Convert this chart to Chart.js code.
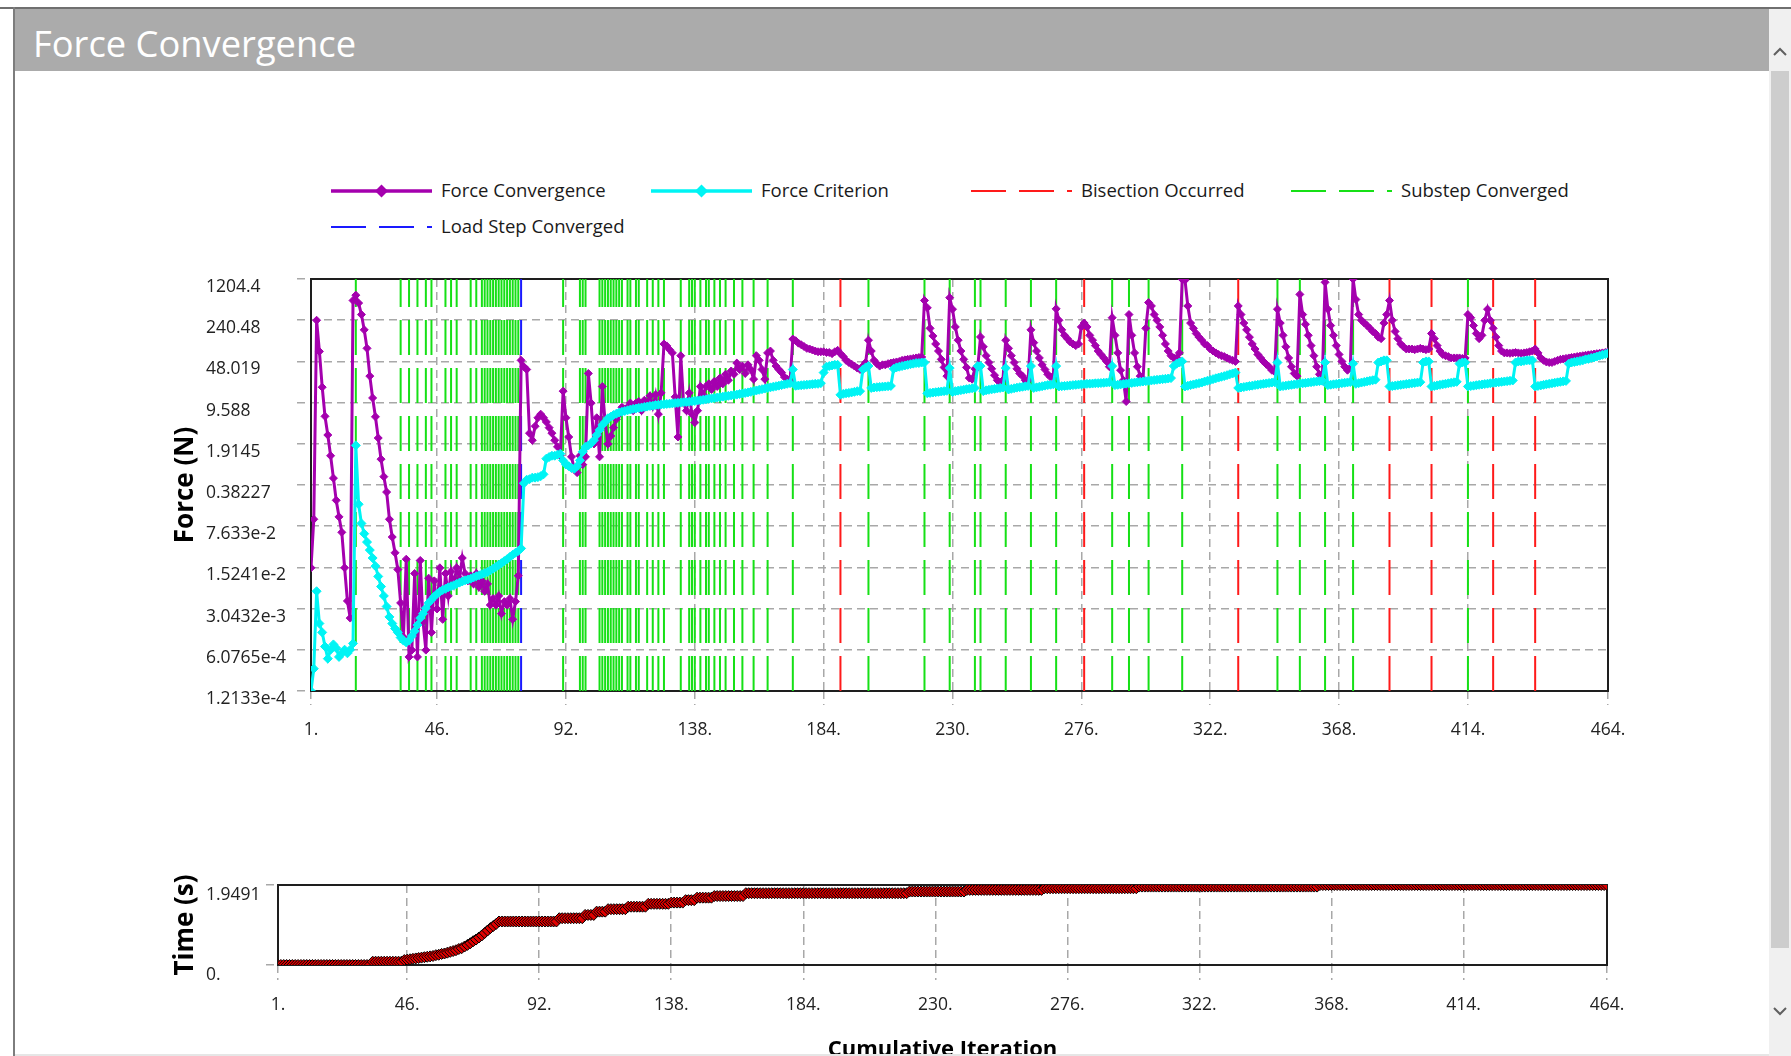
<!DOCTYPE html>
<html>
<head>
<meta charset="utf-8">
<title>Force Convergence</title>
<script src="https://cdn.jsdelivr.net/npm/chart.js@4.4.1/dist/chart.umd.min.js"></script>
<style>
  html, body { margin: 0; padding: 0; background: #fff; overflow: hidden; }
  body { position: relative; width: 1791px; height: 1056px; font-family: "Open Sans", sans-serif; }
  .abs { position: absolute; }
  #topLine { left: 0; top: 7px; width: 1791px; height: 2px; background: #6f6f6f; }
  #leftLine { left: 13px; top: 7px; width: 2px; height: 1049px; background: #7d7d7d; }
  #header { left: 15px; top: 9px; width: 1754px; height: 62px; background: #ababab; }
  #header span { position: absolute; left: 18px; top: 3px; line-height: 62px; font-size: 36.3px; color: #fff; }
  #scroll { left: 1769px; top: 9px; width: 22px; height: 1047px; background: #f0f0f0; }
  #thumb { left: 1771px; top: 71px; width: 18px; height: 877px; background: #cdcdcd; }
  #bottomLine { left: 15px; top: 1054px; width: 1754px; height: 2px; background: #e6e6e6; }
  .legSample { position: absolute; }
  .legText { position: absolute; font-size: 18.5px; color: #1a1a1a; white-space: nowrap; line-height: 24px; }
  canvas { position: absolute; }
</style>
</head>
<body>
<div id="topLine" class="abs"></div>
<div id="header" class="abs"><span>Force Convergence</span></div>
<div id="leftLine" class="abs"></div>
<div id="scroll" class="abs"></div>
<div id="thumb" class="abs"></div>
<svg class="abs" style="left:1769px;top:40px" width="22" height="22"><polyline points="5,15 11,9 17,15" fill="none" stroke="#606060" stroke-width="2"/></svg>
<svg class="abs" style="left:1769px;top:1000px" width="22" height="22"><polyline points="5,8 11,14 17,8" fill="none" stroke="#606060" stroke-width="2"/></svg>
<div id="legend"></div>
<canvas id="forceChart" width="1500" height="520" style="left:150px;top:250px"></canvas>
<canvas id="timeChart" width="1500" height="206" style="left:150px;top:850px"></canvas>
<div id="bottomLine" class="abs"></div>

<script>
// ---- data (one value per cumulative iteration) ----
const forceConvergence = [
  1.5e-2, 0.1, 240, 71, 17.5, 5.6, 2.7, 1.2, 0.5, 0.21,
  0.11, 0.06, 1.5e-2, 4.1e-3, 2.1e-3, 520, 640, 470, 300, 165,
  80, 27, 11.5, 5.5, 2.4, 1.05, 0.53, 0.29, 0.1, 0.05,
  0.027, 1.4e-2, 3.8e-3, 1e-3, 2.1e-2, 4.6e-4, 6e-4, 1.2e-2, 4.6e-4, 2e-2,
  1.8e-3, 6e-4, 1e-2, 1.2e-3, 9e-3, 3e-3, 1.5e-2, 2e-3, 1.2e-2, 5e-3,
  1.3e-2, 8e-3, 1.5e-2, 1e-2, 2.2e-2, 1.2e-2, 9e-3, 1.1e-2, 8e-3, 1.2e-2,
  7e-3, 9e-3, 6e-3, 8e-3, 3.5e-3, 4.5e-3, 3.5e-3, 5e-3, 2.5e-3, 4e-3,
  3.5e-3, 4.5e-3, 2e-3, 4e-3, 1.1e-2, 50, 39, 35, 2.9, 2.2,
  3.8, 5.3, 6.1, 5.3, 4.5, 3.6, 2.9, 2.2, 1.7, 1.2,
  15, 5.3, 2.5, 1.15, 0.7, 0.62, 1.2, 0.85, 1.15, 30,
  9.4, 1.9, 5.3, 1.15, 18, 4.4, 1.9, 2.6, 3.6, 5,
  6.1, 8, 7.5, 8, 9.4, 7, 9.4, 10, 7, 10.5,
  9.4, 12.5, 8.2, 13, 6.1, 14, 95, 88, 76, 67,
  12, 2.5, 60, 9.4, 7, 14, 6.1, 4.4, 7, 18,
  13, 18, 20, 16, 22, 18, 25, 20, 29, 23,
  33, 29, 45, 35, 40, 30, 42, 35, 24, 60,
  50, 35, 24, 67, 72, 50, 40, 35, 31, 26,
  24, 22, 115, 108, 98, 92, 86, 80, 78, 75,
  72, 70, 70, 70, 68, 68, 65, 70, 74, 65,
  58, 50, 46, 43, 40, 37, 35, 40, 46, 110,
  72, 50, 44, 40, 42, 42, 44, 45, 46, 47,
  48, 50, 51, 52, 53, 54, 55, 56, 57, 520,
  390, 175, 130, 95, 72, 52, 38, 27, 580, 370,
  185, 110, 72, 52, 38, 25, 24, 36, 38, 125,
  85, 60, 46, 36, 28, 23, 21, 23, 110, 80,
  60, 46, 36, 30, 27, 23, 23, 165, 100, 72,
  55, 42, 35, 29, 26, 27, 375, 240, 165, 133,
  117, 103, 95, 89, 95, 185, 215, 185, 133, 110,
  89, 72, 63, 55, 48, 39, 265, 133, 67, 34,
  23, 10, 300, 133, 67, 39, 27, 23, 175, 480,
  420, 300, 240, 185, 133, 95, 72, 60, 55, 55,
  67, 1190, 1150, 420, 215, 175, 143, 124, 110, 95,
  89, 78, 72, 67, 63, 60, 58, 55, 52, 50,
  48, 420, 300, 215, 165, 124, 95, 78, 63, 55,
  48, 43, 39, 34, 32, 370, 215, 133, 85, 55,
  39, 30, 27, 660, 300, 205, 133, 89, 60, 39,
  29, 23, 1060, 370, 195, 133, 89, 63, 48, 39,
  34, 37, 1200, 540, 300, 240, 215, 195, 175, 155,
  143, 124, 117, 215, 300, 520, 240, 155, 117, 95,
  85, 78, 78, 78, 76, 78, 80, 78, 76, 78,
  143, 117, 89, 72, 63, 60, 58, 55, 55, 55,
  55, 54, 55, 300, 265, 195, 143, 117, 133, 240,
  370, 240, 175, 124, 89, 72, 67, 67, 66, 67,
  68, 67, 66, 67, 68, 70, 72, 78, 67, 55,
  50, 47, 46, 46, 48, 50, 52, 53, 54, 55,
  56, 57, 58, 59, 60, 61, 62, 63, 64, 65,
  66, 67, 68, 70
];

const forceCriterion = [
  1.21e-4, 2.9e-4, 6e-3, 1.7e-3, 1.2e-3, 6.9e-4, 4.3e-4, 6.1e-4, 7.5e-4, 6.5e-4,
  4.6e-4, 5.3e-4, 6.1e-4, 5.3e-4, 6.1e-4, 7.8e-4, 1.8, 0.18, 0.085, 0.057,
  0.041, 0.03, 0.022, 0.016, 0.0107, 0.0072, 0.005, 0.0033, 0.0022, 0.0017,
  0.0014, 0.0012, 9.8e-4, 8.7e-4, 8.1e-4, 8.7e-4, 1.04e-3, 1.26e-3, 1.6e-3, 2.1e-3,
  2.5e-3, 3.1e-3, 3.8e-3, 4.3e-3, 4.9e-3, 5.4e-3, 5.9e-3, 6.3e-3, 6.6e-3, 7e-3,
  7.3e-3, 7.6e-3, 8e-3, 8.4e-3, 8.8e-3, 9.2e-3, 9.5e-3, 9.8e-3, 1.03e-2, 1.08e-2,
  1.12e-2, 1.17e-2, 1.22e-2, 1.27e-2, 1.35e-2, 1.45e-2, 1.55e-2, 1.67e-2, 1.8e-2, 1.95e-2,
  2.1e-2, 2.3e-2, 2.5e-2, 2.7e-2, 2.9e-2, 3.2e-2, 0.41, 0.47, 0.48, 0.51,
  0.51, 0.52, 0.54, 0.58, 1.07, 1.14, 1.2, 1.2, 1.25, 1.3,
  1, 0.85, 0.8, 0.74, 0.72, 0.8, 1, 1.4, 1.7, 1.8,
  1.95, 2.2, 2.7, 3.3, 4, 4.5, 5.2, 5.5, 5.9, 6.2,
  6.5, 6.7, 6.9, 7.1, 7.3, 7.5, 7.6, 7.8, 7.9, 8.1,
  8.2, 8.4, 8.5, 8.7, 8.8, 8.9, 9, 9.1, 9.2, 9.3,
  9.4, 9.5, 9.6, 9.7, 9.8, 9.9, 10.1, 10.2, 10.4, 10.5,
  10.7, 10.9, 11.1, 11.3, 11.5, 11.7, 11.9, 12.1, 12.3, 12.5,
  12.7, 12.9, 13.1, 13.4, 13.7, 14, 14.3, 14.6, 15, 15.4,
  15.8, 16.2, 16.6, 17, 17.4, 17.8, 18.2, 18.6, 19, 19.5,
  20, 20.5, 35, 18.5, 18.7, 18.9, 19.1, 19.3, 19.5, 19.7,
  20, 20, 20.5, 31, 39, 40, 41, 42, 42, 13,
  13.5, 13.8, 14, 14.3, 14.6, 15, 15, 35, 38, 40,
  17, 17.3, 17.5, 17.7, 17.9, 18, 18.2, 18.4, 36, 38,
  39, 40, 41, 42, 43, 44, 45, 45, 46, 46,
  13.8, 14, 14.2, 14.4, 14.6, 14.8, 15, 15.2, 37, 14.5,
  15, 15.3, 15.6, 15.9, 16.2, 16.5, 16.8, 17, 40, 40,
  15, 15.5, 15.8, 16.1, 16.4, 16.7, 17, 17.3, 37, 16,
  16.4, 16.8, 17.2, 17.5, 17.8, 18.1, 18.4, 40, 17, 17.4,
  17.8, 18.2, 18.6, 19, 19.3, 19.6, 40, 18, 18.2, 18.4,
  18.6, 18.8, 19, 19.2, 19.4, 19.6, 19.8, 20, 20.1, 20.2,
  20.4, 20.5, 20.6, 20.8, 21, 21.2, 40, 19, 19.2, 19.5,
  19.8, 20.1, 20.4, 20.7, 21, 21.3, 21.6, 21.9, 22.2, 22.5,
  22.8, 23.1, 23.4, 23.7, 24, 24.3, 24.6, 25, 40, 44,
  46, 48, 18, 18.5, 19, 19.5, 20, 20.5, 21, 21.8,
  22.5, 23.2, 24, 24.8, 25.5, 26.3, 27, 28, 29, 30,
  31, 17, 17.3, 17.6, 18, 18.3, 18.6, 19, 19.3, 19.6,
  20, 20.3, 20.6, 21, 21.3, 46, 18, 18.3, 18.6, 18.9,
  19.2, 19.5, 19.8, 20.1, 20.4, 20.7, 21, 21.3, 21.6, 21.9,
  22.2, 22.5, 46, 19, 19.3, 19.6, 19.9, 20.2, 20.5, 20.8,
  21.1, 21.4, 44, 20, 20.5, 21, 21.5, 22, 22.5, 23,
  23.5, 46, 48, 50, 50, 18, 18.3, 18.6, 18.9, 19.2,
  19.5, 19.8, 20.1, 20.4, 20.7, 21, 21.3, 46, 48, 48,
  18, 18.4, 18.8, 19.2, 19.6, 20, 20.4, 20.8, 21.2, 21.6,
  44, 46, 46, 18, 18.3, 18.6, 18.9, 19.2, 19.5, 19.8,
  20.1, 20.4, 20.7, 21, 21.3, 21.6, 21.9, 22.2, 22.5, 22.8,
  46, 48, 48, 49, 50, 50, 50, 18, 18.4, 18.8,
  19.2, 19.6, 20, 20.4, 20.8, 21.2, 21.6, 22, 22.4, 44,
  46, 47, 48, 49, 50, 52, 53, 55, 56, 58,
  60, 62, 64, 66
];

const timeValues = [
  0, 0, 0, 0, 0, 0, 0, 0, 0, 0,
  0, 0, 0, 0, 0, 0, 0, 0, 0, 0,
  0, 0, 0, 0, 0, 0, 0, 0, 0, 0,
  0, 0, 0, 0.08, 0.08, 0.08, 0.08, 0.08, 0.08, 0.08,
  0.08, 0.08, 0.08, 0.08, 0.12, 0.13, 0.14, 0.15, 0.16, 0.17,
  0.18, 0.19, 0.2, 0.21, 0.22, 0.24, 0.25, 0.27, 0.28, 0.3,
  0.32, 0.34, 0.36, 0.39, 0.41, 0.45, 0.49, 0.53, 0.58, 0.62,
  0.67, 0.72, 0.78, 0.84, 0.9, 0.95, 1.0, 1.06, 1.06, 1.06,
  1.06, 1.06, 1.06, 1.06, 1.06, 1.06, 1.06, 1.06, 1.06, 1.06,
  1.06, 1.06, 1.06, 1.06, 1.06, 1.06, 1.06, 1.06, 1.14, 1.14,
  1.14, 1.14, 1.14, 1.14, 1.14, 1.14, 1.14, 1.22, 1.22, 1.22,
  1.22, 1.3, 1.3, 1.3, 1.3, 1.36, 1.36, 1.36, 1.36, 1.36,
  1.36, 1.36, 1.42, 1.42, 1.42, 1.42, 1.42, 1.42, 1.42, 1.49,
  1.49, 1.49, 1.49, 1.49, 1.49, 1.49, 1.49, 1.52, 1.52, 1.52,
  1.52, 1.52, 1.58, 1.58, 1.58, 1.58, 1.64, 1.64, 1.64, 1.64,
  1.64, 1.64, 1.68, 1.68, 1.68, 1.68, 1.68, 1.68, 1.68, 1.68,
  1.68, 1.68, 1.68, 1.75, 1.75, 1.75, 1.75, 1.75, 1.75, 1.75,
  1.75, 1.75, 1.75, 1.75, 1.75, 1.75, 1.75, 1.75, 1.75, 1.75,
  1.75, 1.75, 1.75, 1.75, 1.75, 1.75, 1.75, 1.75, 1.75, 1.75,
  1.75, 1.75, 1.75, 1.75, 1.75, 1.75, 1.75, 1.75, 1.75, 1.75,
  1.75, 1.75, 1.75, 1.75, 1.75, 1.75, 1.75, 1.75, 1.75, 1.75,
  1.75, 1.75, 1.75, 1.75, 1.75, 1.75, 1.75, 1.75, 1.75, 1.75,
  1.79, 1.79, 1.79, 1.79, 1.79, 1.79, 1.79, 1.79, 1.79, 1.79,
  1.79, 1.79, 1.79, 1.79, 1.79, 1.79, 1.79, 1.79, 1.79, 1.79,
  1.83, 1.83, 1.83, 1.83, 1.83, 1.83, 1.83, 1.83, 1.83, 1.83,
  1.83, 1.83, 1.83, 1.83, 1.83, 1.83, 1.83, 1.83, 1.83, 1.83,
  1.83, 1.83, 1.83, 1.83, 1.83, 1.83, 1.83, 1.87, 1.87, 1.87,
  1.87, 1.87, 1.87, 1.87, 1.87, 1.87, 1.87, 1.87, 1.87, 1.87,
  1.87, 1.87, 1.87, 1.87, 1.87, 1.87, 1.87, 1.87, 1.87, 1.87,
  1.87, 1.87, 1.87, 1.87, 1.87, 1.87, 1.87, 1.87, 1.87, 1.87,
  1.91, 1.91, 1.91, 1.91, 1.91, 1.91, 1.91, 1.91, 1.91, 1.91,
  1.91, 1.91, 1.91, 1.91, 1.91, 1.91, 1.91, 1.91, 1.91, 1.91,
  1.91, 1.91, 1.91, 1.91, 1.91, 1.91, 1.91, 1.91, 1.91, 1.91,
  1.91, 1.91, 1.91, 1.91, 1.91, 1.91, 1.91, 1.91, 1.91, 1.91,
  1.91, 1.91, 1.91, 1.91, 1.91, 1.91, 1.91, 1.91, 1.91, 1.91,
  1.91, 1.91, 1.91, 1.91, 1.91, 1.91, 1.91, 1.91, 1.91, 1.91,
  1.91, 1.91, 1.91, 1.949, 1.949, 1.949, 1.949, 1.949, 1.949, 1.949,
  1.949, 1.949, 1.949, 1.949, 1.949, 1.949, 1.949, 1.949, 1.949, 1.949,
  1.949, 1.949, 1.949, 1.949, 1.949, 1.949, 1.949, 1.949, 1.949, 1.949,
  1.949, 1.949, 1.949, 1.949, 1.949, 1.949, 1.949, 1.949, 1.949, 1.949,
  1.949, 1.949, 1.949, 1.949, 1.949, 1.949, 1.949, 1.949, 1.949, 1.949,
  1.949, 1.949, 1.949, 1.949, 1.949, 1.949, 1.949, 1.949, 1.949, 1.949,
  1.949, 1.949, 1.949, 1.949, 1.949, 1.949, 1.949, 1.949, 1.949, 1.949,
  1.949, 1.949, 1.949, 1.949, 1.949, 1.949, 1.949, 1.949, 1.949, 1.949,
  1.949, 1.949, 1.949, 1.949, 1.949, 1.949, 1.949, 1.949, 1.949, 1.949,
  1.949, 1.949, 1.949, 1.949, 1.949, 1.949, 1.949, 1.949, 1.949, 1.949,
  1.949, 1.949, 1.949, 1.949
];

// iterations where the vertical markers sit
const substepIters = [17, 33, 36, 39, 42, 44, 49, 51, 53, 58, 60, 62, 63, 64, 65, 66, 67, 68, 69, 70, 71, 72, 73, 74, 75,
  91, 97, 98, 99, 104, 105, 106, 107, 108, 109, 110, 111, 112, 114, 115, 117, 118, 121, 123, 125, 127, 133, 136, 137, 138,
  140, 142, 143, 145, 147, 149, 152, 155, 159, 164, 173, 200, 220, 229, 238, 240, 249, 258, 267, 287, 293, 300, 312,
  346, 354, 363, 373, 414];
const bisectionIters = [190, 277, 332, 386, 401, 423, 438];
const loadStepIters = [76];

// axis ticks
const iterTicks = [1, 46, 92, 138, 184, 230, 276, 322, 368, 414, 464];
const forceTicks = [1.2133e-4, 6.0765e-4, 3.0432e-3, 1.5241e-2, 7.633e-2, 0.38227, 1.9145, 9.588, 48.019, 240.48, 1204.4];
const forceTickLabels = ['1.2133e-4', '6.0765e-4', '3.0432e-3', '1.5241e-2', '7.633e-2', '0.38227', '1.9145', '9.588', '48.019', '240.48', '1204.4'];
const timeTicks = [0, 1.9491];
const timeTickLabels = ['0.', '1.9491'];

const PURPLE = '#a400ae';
const CYAN = '#00f4f4';
const RED = '#ff1a1a';
const GREEN = '#16e016';
const BLUE = '#1a1aff';
const GRID = '#a8a8a8';

const Y_MIN = forceTicks[0];
const Y_MAX = forceTicks[forceTicks.length - 1];

Chart.defaults.font.family = '"Open Sans", sans-serif';
Chart.defaults.color = '#222';

const toPoints = vals => vals.map((v, i) => ({ x: i + 1, y: v }));

// each marker becomes its own bottom-to-top segment, split by a null point
function vertLines(iters) {
  const pts = [];
  iters.forEach(it => {
    pts.push({ x: it, y: Y_MIN }, { x: it, y: Y_MAX }, { x: it, y: null });
  });
  return pts;
}

// black box round the plot area
const plotFrame = {
  id: 'plotFrame',
  beforeDatasetsDraw(chart) {
    const { ctx, chartArea: a } = chart;
    ctx.save();
    ctx.strokeStyle = '#1e1e1e';
    ctx.lineWidth = 2;
    ctx.strokeRect(a.left, a.top, a.right - a.left, a.bottom - a.top);
    ctx.restore();
  }
};

// ---- legend ----
const legendItems = [
  { text: 'Force Convergence', color: PURPLE, marker: true, left: 331, top: 191 },
  { text: 'Force Criterion', color: CYAN, marker: true, left: 651, top: 191 },
  { text: 'Bisection Occurred', color: RED, marker: false, left: 971, top: 191 },
  { text: 'Substep Converged', color: GREEN, marker: false, left: 1291, top: 191 },
  { text: 'Load Step Converged', color: BLUE, marker: false, left: 331, top: 227 }
];
const legendEl = document.getElementById('legend');
legendItems.forEach(item => {
  let svg = `<svg class="legSample" style="left:${item.left}px;top:${item.top - 7}px" width="101" height="14">`;
  if (item.marker) {
    svg += `<line x1="0" y1="7" x2="101" y2="7" stroke="${item.color}" stroke-width="3.5"/>`;
    svg += `<polygon points="44,7 50.5,0.5 57,7 50.5,13.5" fill="${item.color}"/>`;
  } else {
    svg += `<line x1="0" y1="7" x2="101" y2="7" stroke="${item.color}" stroke-width="2" stroke-dasharray="35 13"/>`;
  }
  svg += '</svg>';
  legendEl.insertAdjacentHTML('beforeend', svg +
    `<div class="legText" style="left:${item.left + 110}px;top:${item.top - 13}px">${item.text}</div>`);
});

const tickFont = { size: 17.5 };
const xTitleFont = { size: 22, weight: 'bold' };
const yTitleFont = { size: 26, weight: 'bold' };

// ---- force chart ----
new Chart(document.getElementById('forceChart'), {
  type: 'line',
  data: {
    datasets: [
      {
        label: 'Force Criterion', data: toPoints(forceCriterion),
        borderColor: CYAN, backgroundColor: CYAN, borderWidth: 3,
        pointStyle: 'rectRot', pointRadius: 4.5, pointBorderWidth: 1, order: 0
      },
      {
        label: 'Force Convergence', data: toPoints(forceConvergence),
        borderColor: PURPLE, backgroundColor: PURPLE, borderWidth: 3,
        pointStyle: 'rectRot', pointRadius: 4, pointBorderWidth: 1, order: 1
      },
      {
        label: 'Bisection Occurred', data: vertLines(bisectionIters),
        borderColor: RED, borderWidth: 2, borderDash: [35, 13], pointRadius: 0, order: 2
      },
      {
        label: 'Load Step Converged', data: vertLines(loadStepIters),
        borderColor: BLUE, borderWidth: 2, borderDash: [35, 13], pointRadius: 0, order: 3
      },
      {
        label: 'Substep Converged', data: vertLines(substepIters),
        borderColor: GREEN, borderWidth: 2, borderDash: [35, 13], pointRadius: 0, order: 4
      }
    ]
  },
  options: {
    responsive: false,
    animation: false,
    devicePixelRatio: 1,
    events: [],
    layout: { padding: { left: 56, top: 29, right: 42, bottom: 0 } },
    plugins: { legend: { display: false }, tooltip: { enabled: false } },
    scales: {
      x: {
        type: 'linear', min: 1, max: 464,
        afterBuildTicks: s => { s.ticks = iterTicks.map(v => ({ value: v })); },
        afterFit: s => { s.height = 79; },
        ticks: { font: tickFont, autoSkip: false, maxRotation: 0, padding: 15, callback: v => v + '.' },
        grid: { color: GRID, lineWidth: 1.5, tickLength: 14, tickColor: GRID, tickWidth: 1.5, tickBorderDash: [8, 5] },
        border: { display: false, dash: [8, 5] }
      },
      y: {
        type: 'logarithmic', min: Y_MIN, max: Y_MAX,
        afterBuildTicks: s => { s.ticks = forceTicks.map(v => ({ value: v })); },
        afterFit: s => { s.width = 105; },
        ticks: { font: tickFont, crossAlign: 'far', labelOffset: 8, callback: (v, i) => forceTickLabels[i] },
        grid: { color: GRID, lineWidth: 1.5, tickLength: 14, tickColor: GRID, tickWidth: 1.5, tickBorderDash: [8, 5] },
        border: { display: false, dash: [8, 5] },
        title: { display: true, text: 'Force (N)', color: '#000', font: yTitleFont, padding: { top: -35.6, bottom: 0 } }
      }
    }
  },
  plugins: [plotFrame]
});

// ---- time chart ----
new Chart(document.getElementById('timeChart'), {
  type: 'line',
  data: {
    datasets: [{
      label: 'Time', data: toPoints(timeValues),
      borderColor: '#000', borderWidth: 1,
      pointStyle: 'rectRot', pointRadius: 5.5,
      pointBackgroundColor: '#e00000', pointBorderColor: '#000', pointBorderWidth: 1
    }]
  },
  options: {
    responsive: false,
    animation: false,
    devicePixelRatio: 1,
    events: [],
    layout: { padding: { left: 56, top: 35, right: 43, bottom: 0 } },
    plugins: { legend: { display: false }, tooltip: { enabled: false } },
    scales: {
      x: {
        type: 'linear', min: 1, max: 464,
        afterBuildTicks: s => { s.ticks = iterTicks.map(v => ({ value: v })); },
        afterFit: s => { s.height = 91; },
        ticks: { font: tickFont, autoSkip: false, maxRotation: 0, padding: 15, callback: v => v + '.' },
        grid: { color: GRID, lineWidth: 1.5, tickLength: 15, tickColor: GRID, tickWidth: 1.5, tickBorderDash: [8, 5] },
        border: { display: false, dash: [8, 5] },
        title: { display: true, text: 'Cumulative Iteration', color: '#000', font: xTitleFont, padding: { top: 0, bottom: -6.5 } }
      },
      y: {
        type: 'linear', min: 0, max: 1.9491,
        afterBuildTicks: s => { s.ticks = timeTicks.map(v => ({ value: v })); },
        afterFit: s => { s.width = 72; },
        ticks: { font: tickFont, crossAlign: 'far', labelOffset: 10, callback: (v, i) => timeTickLabels[i] },
        grid: { drawOnChartArea: false, color: GRID, lineWidth: 1.5, tickLength: 12, tickColor: GRID, tickWidth: 1.5, tickBorderDash: [8, 5] },
        border: { display: false },
        title: { display: true, text: 'Time (s)', color: '#000', font: yTitleFont, padding: { top: -35.6, bottom: 0 } }
      }
    }
  },
  plugins: [plotFrame]
});
</script>
</body>
</html>
